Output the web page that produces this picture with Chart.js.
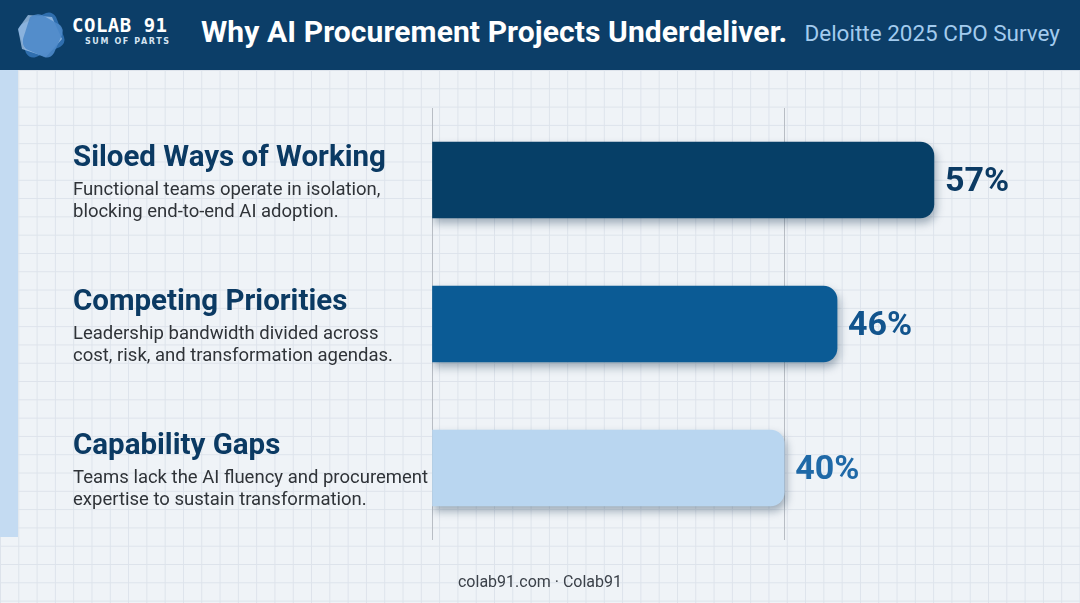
<html>
<head>
<meta charset="utf-8">
<style>
  body { margin: 0; width: 1080px; height: 603px; overflow: hidden; font-family: Roboto, "Noto Sans", sans-serif; }
  #page { position: relative; width: 1080px; height: 603px; background-color: #eff3f7;
    background-image: linear-gradient(to right, #dde3eb 1px, transparent 1px), linear-gradient(to bottom, #dde3eb 1px, transparent 1px);
    background-size: 18.3px 18.3px; background-position: 0 70px; }
  #header { position: absolute; left: 0; top: 0; width: 1080px; height: 70px; background: #0c3e68; }
  #stripe { position: absolute; left: 0; top: 70px; width: 18px; height: 467px; background: #c4dbf2; }
  #logo { position: absolute; left: 16px; top: 9px; }
  #brand { position: absolute; left: 72px; top: 14px; color: #fff; font: bold 19px "DejaVu Sans Mono", monospace; letter-spacing: 0.5px; }
  #brand small { display: block; font: bold 8px "DejaVu Sans", sans-serif; letter-spacing: 1.6px; color: #d5e4f2; margin-left: 13px; margin-top: 1px; }
  #title { position: absolute; left: 201px; top: 14px; color: #fff; font: bold 30px Roboto, sans-serif; letter-spacing: 0.1px; }
  #sub { position: absolute; right: 20px; top: 20px; color: #a3cbee; font: 22.5px Roboto, sans-serif; }
  #footer { position: absolute; left: 0; width: 1080px; top: 572px; text-align: center; color: #3b4149; font: 16px Roboto, sans-serif; }
  canvas { position: absolute; left: 0; top: 70px; }
</style>
</head>
<body>
<div id="page">
  <div id="header">
    <svg id="logo" width="50" height="52" viewBox="0 0 50 52">
      <path d="M8 14 L30 4 Q36 2 40 8 L48 28 Q50 34 44 38 L20 48 Q14 50 10 44 L3 24 Q1 17 8 14 Z" fill="#2f6eae"/>
      <path d="M12 6 L36 8 L46 30 L30 48 L6 40 L2 20 Z" fill="#a9c9ec" opacity="0.75"/>
      <path d="M14 8 Q20 4 26 6 L44 16 Q48 20 46 26 L38 44 Q34 50 28 48 L10 40 Q6 36 7 30 Z" fill="#4c88c9" opacity="0.9"/>
    </svg>
    <div id="brand">COLAB 91<small>SUM OF PARTS</small></div>
    <div id="title">Why AI Procurement Projects Underdeliver.</div>
    <div id="sub">Deloitte 2025 CPO Survey</div>
  </div>
  <div id="stripe"></div>
  <canvas id="c" width="1080" height="533"></canvas>
  <div id="footer">colab91.com · Colab91</div>
</div>
<script src="https://cdn.jsdelivr.net/npm/chart.js@4"></script>
<script>
var categories = ['Siloed Ways of Working', 'Competing Priorities', 'Capability Gaps'];
var descriptions = [
  ['Functional teams operate in isolation,', 'blocking end-to-end AI adoption.'],
  ['Leadership bandwidth divided across', 'cost, risk, and transformation agendas.'],
  ['Teams lack the AI fluency and procurement', 'expertise to sustain transformation.']
];
var values = [57, 46, 40];
var gridTicks = [0, 40];

var barColors = ['#063f67', '#0b5b95', '#b9d6f0'];
var labelColors = ['#0b3a63', '#12548d', '#1f69a7'];

var shadowPlugin = {
  id: 'shadow',
  beforeDatasetsDraw: function (chart) {
    var ctx = chart.ctx;
    ctx.save();
    ctx.shadowColor = 'rgba(10,40,70,0.35)';
    ctx.shadowBlur = 8;
    ctx.shadowOffsetX = 2;
    ctx.shadowOffsetY = 5;
  },
  afterDatasetsDraw: function (chart) {
    chart.ctx.restore();
  }
};

var textPlugin = {
  id: 'texts',
  afterDraw: function (chart) {
    var ctx = chart.ctx;
    var y = chart.scales.y;
    var meta = chart.getDatasetMeta(0);
    ctx.save();
    categories.forEach(function (name, i) {
      var cy = y.getPixelForValue(i);
      ctx.textAlign = 'left';
      ctx.textBaseline = 'alphabetic';
      ctx.fillStyle = '#0b3a63';
      ctx.font = 'bold 29.5px Roboto, sans-serif';
      ctx.fillText(name, 73, cy - 14);
      ctx.fillStyle = '#2f3338';
      ctx.font = '18.5px Roboto, sans-serif';
      descriptions[i].forEach(function (line, j) {
        ctx.fillText(line, 73, cy + 15 + j * 22);
      });
      var bar = meta.data[i];
      ctx.fillStyle = labelColors[i];
      ctx.font = 'bold 34px Roboto, sans-serif';
      ctx.textBaseline = 'middle';
      ctx.fillText(values[i] + '%', bar.x + 11, bar.y + 2);
    });
    ctx.restore();
  }
};

new Chart(document.getElementById('c'), {
  type: 'bar',
  data: {
    labels: categories,
    datasets: [{
      data: values,
      backgroundColor: barColors,
      borderRadius: 14,
      barThickness: 76
    }]
  },
  options: {
    indexAxis: 'y',
    responsive: false,
    animation: false,
    events: [],
    layout: { padding: { left: 432, right: 14, top: 38, bottom: 63 } },
    plugins: { legend: { display: false }, tooltip: { enabled: false } },
    scales: {
      x: {
        min: 0, max: 72,
        afterBuildTicks: function (scale) {
          scale.ticks = gridTicks.map(function (v) { return { value: v }; });
        },
        ticks: { display: false },
        border: { display: false },
        grid: { color: '#b8bdc4', lineWidth: 1, drawTicks: false }
      },
      y: { display: false }
    }
  },
  plugins: [shadowPlugin, textPlugin]
});
</script>
</body>
</html>
